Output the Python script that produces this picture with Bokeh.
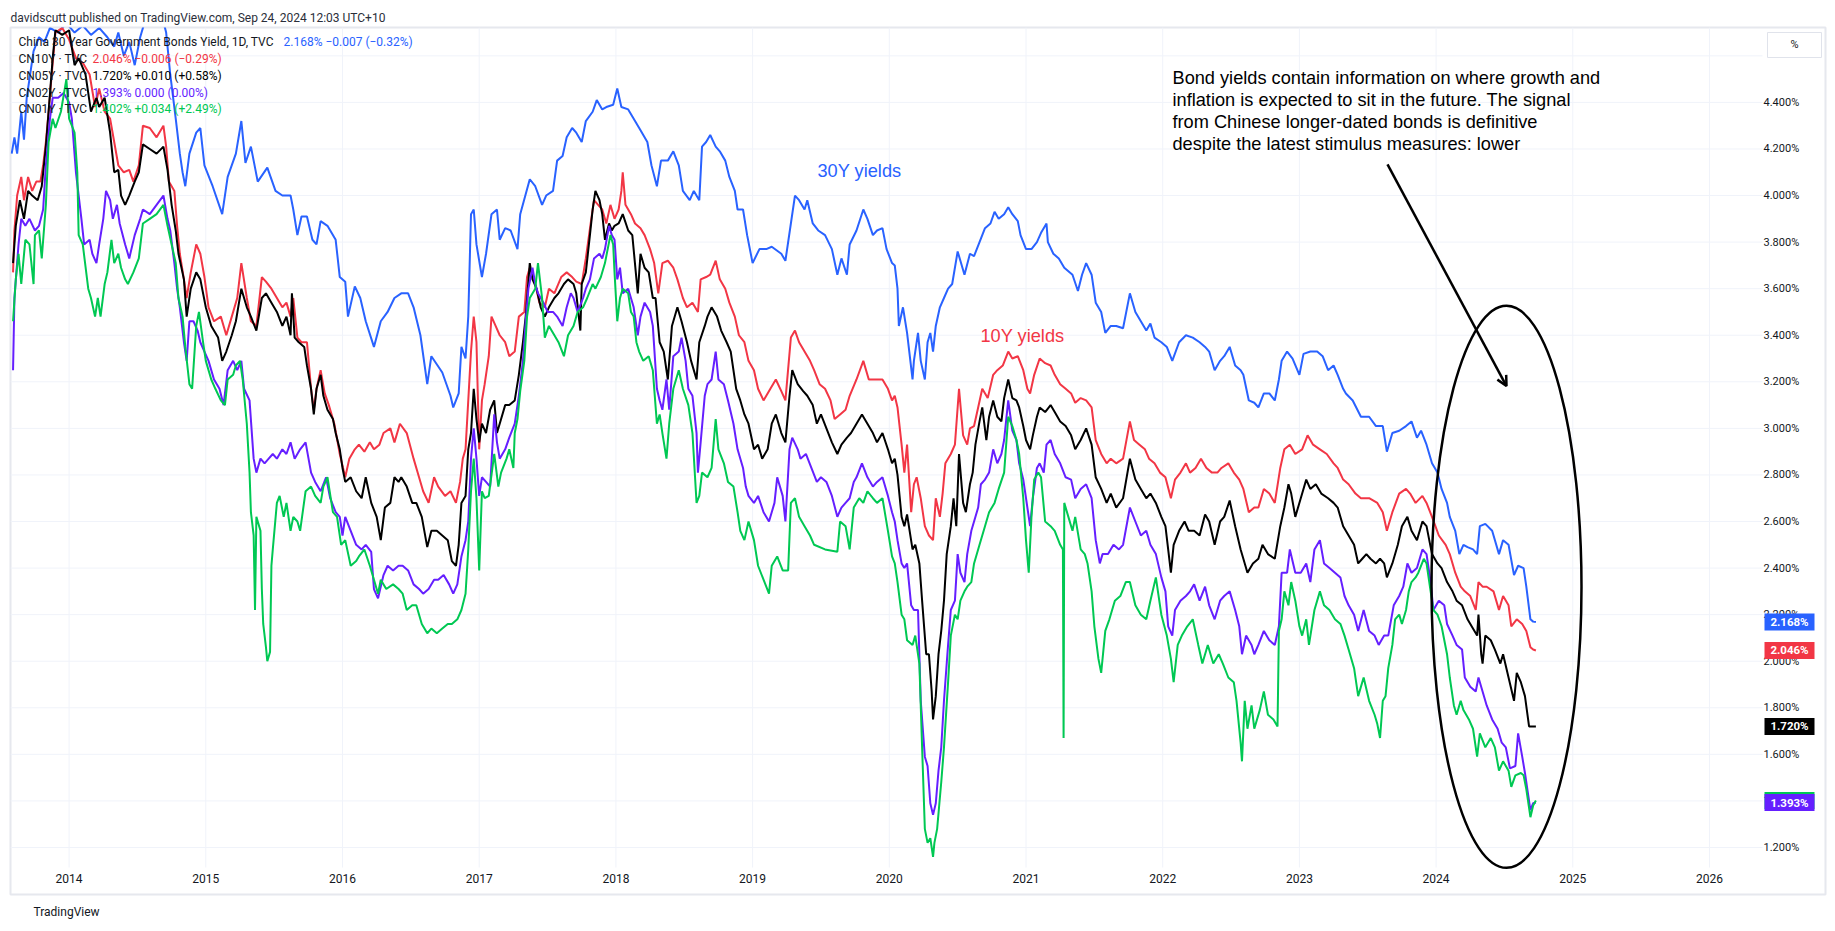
from bokeh.plotting import figure
from bokeh.models import Range1d, FixedTicker, PrintfTickFormatter, Label, Arrow, OpenHead, Title
from bokeh.core.properties import value
from bokeh.embed import file_html
from bokeh.resources import INLINE

# ---------------- data (date as fractional year, yield in %) ----------------
CN30Y = [(2013.58,4.18),(2013.60,4.25),(2013.62,4.18),(2013.65,4.36),(2013.67,4.24),(2013.69,4.42),(2013.71,4.50),
(2013.74,4.62),(2013.78,4.68),(2013.82,4.66),(2013.86,4.72),(2013.92,4.70),(2013.98,4.74),(2014.04,4.70),(2014.10,4.73),
(2014.16,4.69),(2014.22,4.72),(2014.28,4.68),(2014.33,4.64),(2014.36,4.70),(2014.40,4.60),(2014.44,4.66),(2014.48,4.56),
(2014.52,4.68),(2014.56,4.76),(2014.62,4.78),(2014.68,4.77),(2014.71,4.70),(2014.74,4.52),(2014.78,4.33),(2014.81,4.18),
(2014.83,4.10),(2014.85,4.04),(2014.88,4.18),(2014.93,4.27),(2014.96,4.29),(2014.99,4.13),(2015.05,4.04),(2015.12,3.92),
(2015.16,4.08),(2015.22,4.18),(2015.26,4.32),(2015.29,4.14),(2015.33,4.21),(2015.38,4.06),(2015.45,4.12),(2015.51,4.02),
(2015.56,4.00),(2015.62,4.00),(2015.64,3.94),(2015.67,3.83),(2015.70,3.91),(2015.74,3.91),(2015.78,3.81),(2015.81,3.79),
(2015.84,3.89),(2015.89,3.87),(2015.95,3.81),(2015.98,3.65),(2016.02,3.63),(2016.04,3.48),(2016.09,3.61),(2016.13,3.56),
(2016.17,3.46),(2016.23,3.35),(2016.28,3.46),(2016.33,3.50),(2016.38,3.56),(2016.43,3.58),(2016.48,3.58),(2016.52,3.52),
(2016.57,3.40),(2016.62,3.19),(2016.65,3.31),(2016.73,3.24),(2016.79,3.14),(2016.81,3.09),(2016.85,3.15),(2016.87,3.35),
(2016.90,3.30),(2016.92,3.48),(2016.94,3.92),(2016.96,3.94),(2016.98,3.79),(2017.02,3.65),(2017.05,3.75),(2017.09,3.92),
(2017.13,3.94),(2017.15,3.81),(2017.19,3.86),(2017.23,3.85),(2017.28,3.77),(2017.30,3.92),(2017.37,4.07),(2017.41,4.04),
(2017.46,3.96),(2017.49,4.00),(2017.54,4.02),(2017.57,4.15),(2017.61,4.17),(2017.64,4.25),(2017.68,4.29),(2017.71,4.27),
(2017.75,4.23),(2017.78,4.32),(2017.83,4.36),(2017.86,4.41),(2017.90,4.37),(2017.93,4.38),(2017.98,4.39),(2018.01,4.46),
(2018.04,4.38),(2018.09,4.37),(2018.14,4.32),(2018.18,4.28),(2018.23,4.23),(2018.26,4.13),(2018.30,4.04),(2018.33,4.15),
(2018.38,4.15),(2018.42,4.19),(2018.46,4.13),(2018.49,4.02),(2018.54,3.98),(2018.57,4.02),(2018.61,3.98),(2018.63,4.21),
(2018.66,4.23),(2018.69,4.26),(2018.73,4.21),(2018.76,4.19),(2018.80,4.15),(2018.83,4.08),(2018.87,4.02),(2018.89,3.94),
(2018.93,3.94),(2018.96,3.83),(2019.00,3.71),(2019.05,3.77),(2019.10,3.77),(2019.14,3.78),(2019.21,3.75),(2019.24,3.72),
(2019.28,3.88),(2019.31,4.00),(2019.34,3.98),(2019.38,3.94),(2019.40,3.98),(2019.44,3.88),(2019.48,3.85),(2019.53,3.83),
(2019.58,3.77),(2019.62,3.66),(2019.65,3.73),(2019.69,3.66),(2019.71,3.79),(2019.76,3.85),(2019.81,3.94),(2019.84,3.90),
(2019.88,3.83),(2019.91,3.85),(2019.95,3.86),(2019.98,3.77),(2020.02,3.71),(2020.04,3.70),(2020.06,3.60),(2020.07,3.44),
(2020.10,3.52),(2020.13,3.41),(2020.17,3.21),(2020.18,3.29),(2020.21,3.41),(2020.23,3.29),(2020.26,3.21),(2020.28,3.37),
(2020.30,3.41),(2020.32,3.33),(2020.34,3.44),(2020.37,3.52),(2020.40,3.56),(2020.43,3.60),(2020.46,3.62),(2020.50,3.76),
(2020.52,3.72),(2020.55,3.66),(2020.59,3.75),(2020.62,3.74),(2020.66,3.80),(2020.70,3.86),(2020.74,3.88),(2020.77,3.93),
(2020.80,3.90),(2020.84,3.92),(2020.87,3.95),(2020.90,3.92),(2020.94,3.89),(2020.96,3.83),(2021.00,3.77),(2021.04,3.77),
(2021.08,3.80),(2021.11,3.84),(2021.15,3.88),(2021.16,3.80),(2021.20,3.75),(2021.24,3.73),(2021.28,3.69),(2021.34,3.66),
(2021.38,3.59),(2021.41,3.66),(2021.44,3.71),(2021.48,3.66),(2021.51,3.54),(2021.55,3.50),(2021.58,3.41),(2021.62,3.44),
(2021.66,3.44),(2021.71,3.43),(2021.76,3.58),(2021.80,3.50),(2021.84,3.46),(2021.88,3.42),(2021.91,3.45),(2021.94,3.39),
(2021.99,3.37),(2022.03,3.35),(2022.07,3.29),(2022.12,3.37),(2022.17,3.40),(2022.22,3.39),(2022.27,3.37),(2022.31,3.35),
(2022.34,3.33),(2022.38,3.25),(2022.42,3.29),(2022.45,3.31),(2022.49,3.35),(2022.53,3.27),(2022.57,3.25),(2022.59,3.23),
(2022.63,3.12),(2022.67,3.11),(2022.70,3.09),(2022.74,3.15),(2022.78,3.15),(2022.82,3.12),(2022.85,3.21),(2022.87,3.29),
(2022.91,3.33),(2022.95,3.30),(2023.00,3.23),(2023.03,3.32),(2023.08,3.33),(2023.13,3.33),(2023.17,3.31),(2023.21,3.25),
(2023.25,3.27),(2023.28,3.23),(2023.32,3.17),(2023.34,3.15),(2023.39,3.12),(2023.45,3.05),(2023.51,3.05),(2023.56,3.01),
(2023.61,3.01),(2023.64,2.90),(2023.68,2.98),(2023.73,2.99),(2023.78,3.01),(2023.82,3.03),(2023.86,2.96),(2023.89,2.99),
(2023.93,2.93),(2023.97,2.85),(2024.01,2.81),(2024.04,2.74),(2024.08,2.68),(2024.10,2.62),(2024.14,2.56),(2024.17,2.46),
(2024.20,2.50),(2024.23,2.49),(2024.27,2.48),(2024.30,2.46),(2024.32,2.58),(2024.36,2.59),(2024.41,2.56),(2024.46,2.46),
(2024.49,2.52),(2024.53,2.50),(2024.57,2.37),(2024.60,2.41),(2024.64,2.40),(2024.66,2.32),(2024.69,2.18),(2024.71,2.17),
(2024.73,2.168)]

CN10Y = [(2013.59,3.67),(2013.60,3.85),(2013.62,4.00),(2013.65,4.08),(2013.67,3.98),(2013.70,4.08),(2013.73,4.02),
(2013.76,4.06),(2013.79,4.06),(2013.81,4.13),(2013.83,4.23),(2013.85,4.36),(2013.88,4.57),(2013.90,4.70),(2013.95,4.72),
(2014.00,4.67),(2014.05,4.59),(2014.10,4.57),(2014.15,4.52),(2014.19,4.38),(2014.22,4.46),(2014.26,4.36),(2014.30,4.33),
(2014.33,4.23),(2014.36,4.13),(2014.40,4.10),(2014.44,4.11),(2014.47,4.06),(2014.51,4.13),(2014.54,4.30),(2014.59,4.29),
(2014.64,4.25),(2014.69,4.30),(2014.71,4.21),(2014.73,4.06),(2014.77,4.02),(2014.79,3.87),(2014.81,3.75),(2014.84,3.64),
(2014.86,3.56),(2014.89,3.67),(2014.93,3.79),(2014.96,3.75),(2014.99,3.65),(2015.02,3.52),(2015.06,3.46),(2015.11,3.48),
(2015.15,3.40),(2015.19,3.48),(2015.23,3.56),(2015.26,3.71),(2015.30,3.56),(2015.33,3.46),(2015.37,3.44),(2015.41,3.65),
(2015.44,3.63),(2015.48,3.60),(2015.52,3.56),(2015.56,3.52),(2015.59,3.54),(2015.62,3.48),(2015.64,3.56),(2015.67,3.39),
(2015.70,3.37),(2015.74,3.37),(2015.77,3.17),(2015.79,3.08),(2015.81,3.17),(2015.84,3.25),(2015.87,3.15),(2015.90,3.10),
(2015.94,3.02),(2015.98,2.89),(2016.02,2.79),(2016.05,2.87),(2016.09,2.91),(2016.12,2.93),(2016.16,2.90),(2016.20,2.94),
(2016.23,2.91),(2016.27,2.93),(2016.30,2.98),(2016.35,3.00),(2016.38,2.94),(2016.42,3.02),(2016.47,2.98),(2016.52,2.87),
(2016.56,2.79),(2016.59,2.73),(2016.63,2.68),(2016.67,2.79),(2016.70,2.75),(2016.75,2.71),(2016.79,2.73),(2016.83,2.68),
(2016.86,2.77),(2016.88,2.87),(2016.90,2.91),(2016.92,3.12),(2016.94,3.33),(2016.96,3.48),(2016.98,3.37),(2017.00,2.91),
(2017.02,3.12),(2017.04,3.19),(2017.07,3.31),(2017.09,3.48),(2017.12,3.44),(2017.15,3.40),(2017.19,3.37),(2017.22,3.31),
(2017.26,3.33),(2017.29,3.48),(2017.33,3.50),(2017.35,3.65),(2017.37,3.69),(2017.41,3.62),(2017.44,3.54),(2017.48,3.52),
(2017.51,3.60),(2017.55,3.58),(2017.60,3.65),(2017.64,3.67),(2017.68,3.65),(2017.71,3.63),(2017.75,3.62),(2017.78,3.73),
(2017.82,3.90),(2017.84,3.98),(2017.87,3.96),(2017.90,3.94),(2017.93,3.88),(2017.96,3.96),(2017.99,3.90),(2018.02,3.94),
(2018.04,4.02),(2018.05,4.10),(2018.07,3.96),(2018.11,3.92),(2018.14,3.88),(2018.18,3.86),(2018.21,3.83),(2018.25,3.77),
(2018.28,3.71),(2018.31,3.58),(2018.34,3.71),(2018.38,3.72),(2018.42,3.69),(2018.45,3.64),(2018.49,3.56),(2018.52,3.52),
(2018.56,3.54),(2018.60,3.50),(2018.62,3.64),(2018.66,3.65),(2018.69,3.66),(2018.73,3.72),(2018.76,3.64),(2018.80,3.60),
(2018.83,3.54),(2018.87,3.48),(2018.90,3.40),(2018.94,3.37),(2018.97,3.29),(2019.01,3.25),(2019.04,3.17),(2019.08,3.12),
(2019.13,3.17),(2019.17,3.21),(2019.21,3.16),(2019.24,3.12),(2019.28,3.39),(2019.31,3.42),(2019.34,3.37),(2019.38,3.33),
(2019.42,3.29),(2019.45,3.25),(2019.49,3.19),(2019.53,3.17),(2019.57,3.12),(2019.60,3.04),(2019.64,3.06),(2019.68,3.08),
(2019.71,3.14),(2019.76,3.21),(2019.81,3.29),(2019.85,3.21),(2019.90,3.21),(2019.95,3.21),(2019.99,3.17),(2020.02,3.12),
(2020.04,3.14),(2020.06,3.09),(2020.09,2.93),(2020.11,2.81),(2020.13,2.93),(2020.16,2.64),(2020.18,2.76),(2020.20,2.79),
(2020.23,2.70),(2020.26,2.58),(2020.29,2.54),(2020.32,2.52),(2020.34,2.70),(2020.37,2.62),(2020.39,2.72),(2020.41,2.85),
(2020.45,2.89),(2020.48,2.93),(2020.51,3.17),(2020.54,2.97),(2020.57,2.93),(2020.59,3.00),(2020.62,3.01),(2020.65,3.09),
(2020.68,3.17),(2020.72,3.13),(2020.76,3.23),(2020.79,3.25),(2020.83,3.27),(2020.87,3.33),(2020.90,3.30),(2020.94,3.31),
(2020.98,3.25),(2021.01,3.17),(2021.03,3.15),(2021.06,3.23),(2021.10,3.30),(2021.14,3.28),(2021.18,3.27),(2021.21,3.23),
(2021.25,3.19),(2021.29,3.17),(2021.33,3.15),(2021.36,3.11),(2021.40,3.13),(2021.44,3.12),(2021.48,3.09),(2021.51,2.95),
(2021.55,2.89),(2021.59,2.85),(2021.62,2.87),(2021.66,2.85),(2021.71,2.87),(2021.76,3.03),(2021.79,2.95),(2021.83,2.93),
(2021.87,2.91),(2021.90,2.87),(2021.94,2.85),(2021.98,2.81),(2022.02,2.79),(2022.06,2.70),(2022.09,2.78),(2022.13,2.81),
(2022.17,2.85),(2022.20,2.81),(2022.24,2.83),(2022.28,2.87),(2022.32,2.83),(2022.36,2.81),(2022.40,2.81),(2022.43,2.83),
(2022.48,2.85),(2022.52,2.81),(2022.56,2.78),(2022.59,2.74),(2022.63,2.64),(2022.67,2.66),(2022.70,2.66),(2022.74,2.74),
(2022.78,2.72),(2022.82,2.68),(2022.86,2.83),(2022.89,2.91),(2022.93,2.93),(2022.97,2.89),(2023.02,2.91),(2023.06,2.97),
(2023.10,2.93),(2023.15,2.91),(2023.20,2.89),(2023.25,2.85),(2023.28,2.83),(2023.32,2.78),(2023.36,2.76),(2023.41,2.72),
(2023.45,2.70),(2023.51,2.70),(2023.57,2.68),(2023.61,2.64),(2023.64,2.56),(2023.68,2.64),(2023.73,2.72),(2023.78,2.74),
(2023.81,2.72),(2023.85,2.68),(2023.90,2.71),(2023.93,2.68),(2023.97,2.62),(2024.02,2.54),(2024.07,2.50),(2024.10,2.46),
(2024.14,2.38),(2024.18,2.32),(2024.21,2.30),(2024.25,2.28),(2024.29,2.22),(2024.31,2.34),(2024.34,2.32),(2024.37,2.32),
(2024.42,2.30),(2024.46,2.22),(2024.49,2.28),(2024.53,2.24),(2024.55,2.15),(2024.59,2.18),(2024.63,2.16),(2024.66,2.13),
(2024.69,2.06),(2024.71,2.05),(2024.73,2.046)]

CN05Y = [(2013.59,3.71),(2013.61,3.87),(2013.64,3.98),(2013.67,3.90),(2013.70,4.02),(2013.73,4.00),(2013.77,3.98),
(2013.80,4.04),(2013.83,4.21),(2013.85,4.36),(2013.88,4.59),(2013.90,4.71),(2013.95,4.69),(2014.00,4.71),(2014.04,4.56),
(2014.07,4.59),(2014.12,4.52),(2014.16,4.36),(2014.20,4.42),(2014.22,4.38),(2014.26,4.42),(2014.30,4.27),(2014.33,4.10),
(2014.36,4.11),(2014.38,4.00),(2014.41,3.96),(2014.44,4.00),(2014.48,4.06),(2014.51,4.10),(2014.54,4.22),(2014.59,4.20),
(2014.64,4.18),(2014.69,4.21),(2014.72,4.11),(2014.75,3.96),(2014.78,3.85),(2014.80,3.75),(2014.84,3.64),(2014.86,3.48),
(2014.89,3.60),(2014.93,3.67),(2014.96,3.64),(2015.00,3.52),(2015.04,3.44),(2015.09,3.39),(2015.12,3.29),(2015.15,3.33),
(2015.19,3.40),(2015.22,3.46),(2015.26,3.60),(2015.30,3.52),(2015.33,3.48),(2015.37,3.42),(2015.41,3.56),(2015.44,3.58),
(2015.48,3.54),(2015.52,3.50),(2015.56,3.44),(2015.59,3.48),(2015.62,3.40),(2015.63,3.58),(2015.65,3.39),(2015.68,3.37),
(2015.72,3.35),(2015.74,3.27),(2015.77,3.17),(2015.79,3.06),(2015.81,3.17),(2015.84,3.23),(2015.86,3.14),(2015.89,3.08),
(2015.93,3.04),(2015.95,2.98),(2015.98,2.91),(2016.00,2.83),(2016.02,2.77),(2016.06,2.79),(2016.10,2.73),(2016.14,2.70),
(2016.17,2.79),(2016.21,2.68),(2016.25,2.62),(2016.28,2.52),(2016.31,2.66),(2016.35,2.68),(2016.38,2.79),(2016.41,2.77),
(2016.43,2.79),(2016.47,2.75),(2016.51,2.68),(2016.54,2.68),(2016.58,2.62),(2016.62,2.49),(2016.65,2.56),(2016.69,2.56),
(2016.73,2.54),(2016.77,2.52),(2016.80,2.43),(2016.83,2.41),(2016.85,2.50),(2016.87,2.68),(2016.90,2.71),(2016.92,2.91),
(2016.94,2.98),(2016.96,3.17),(2016.98,3.04),(2017.00,2.94),(2017.02,3.02),(2017.05,2.98),(2017.08,3.08),(2017.11,3.12),
(2017.13,2.98),(2017.15,3.02),(2017.19,3.10),(2017.22,3.10),(2017.26,3.12),(2017.29,3.23),(2017.32,3.37),(2017.34,3.48),
(2017.37,3.71),(2017.39,3.64),(2017.42,3.60),(2017.45,3.52),(2017.48,3.48),(2017.51,3.52),(2017.55,3.56),(2017.58,3.58),
(2017.62,3.62),(2017.65,3.64),(2017.69,3.62),(2017.71,3.58),(2017.74,3.42),(2017.75,3.62),(2017.78,3.67),(2017.81,3.83),
(2017.83,3.94),(2017.85,4.02),(2017.88,3.98),(2017.90,3.92),(2017.92,3.81),(2017.95,3.88),(2017.97,3.85),(2017.99,3.87),
(2018.02,3.88),(2018.05,3.92),(2018.09,3.85),(2018.12,3.83),(2018.16,3.58),(2018.18,3.75),(2018.21,3.69),(2018.24,3.67),
(2018.27,3.56),(2018.29,3.56),(2018.32,3.37),(2018.35,3.33),(2018.38,3.21),(2018.41,3.44),(2018.45,3.52),(2018.48,3.46),
(2018.52,3.37),(2018.55,3.29),(2018.59,3.21),(2018.61,3.37),(2018.65,3.44),(2018.67,3.48),(2018.70,3.52),(2018.74,3.48),
(2018.77,3.42),(2018.81,3.37),(2018.84,3.33),(2018.88,3.17),(2018.91,3.12),(2018.94,3.06),(2018.97,3.02),(2019.01,2.91),
(2019.04,2.93),(2019.07,2.87),(2019.11,2.91),(2019.14,3.02),(2019.17,3.06),(2019.21,2.98),(2019.24,2.94),(2019.27,3.14),
(2019.29,3.25),(2019.33,3.19),(2019.37,3.16),(2019.40,3.14),(2019.44,3.10),(2019.47,3.02),(2019.50,3.06),(2019.54,3.00),
(2019.58,2.94),(2019.62,2.89),(2019.65,2.93),(2019.69,2.96),(2019.72,2.98),(2019.76,3.02),(2019.80,3.06),(2019.84,3.02),
(2019.88,2.98),(2019.91,2.94),(2019.95,2.98),(2019.99,2.91),(2020.02,2.85),(2020.04,2.87),(2020.06,2.80),(2020.09,2.62),
(2020.11,2.58),(2020.13,2.63),(2020.17,2.48),(2020.19,2.50),(2020.22,2.42),(2020.24,2.26),(2020.27,2.03),(2020.29,2.03),
(2020.31,1.87),(2020.32,1.75),(2020.34,1.85),(2020.36,2.03),(2020.38,2.13),(2020.40,2.26),(2020.42,2.46),(2020.45,2.58),
(2020.47,2.70),(2020.49,2.58),(2020.51,2.89),(2020.54,2.68),(2020.56,2.64),(2020.59,2.76),(2020.61,2.81),(2020.63,2.93),
(2020.66,3.03),(2020.68,3.09),(2020.71,2.95),(2020.73,3.05),(2020.76,3.12),(2020.79,3.05),(2020.82,3.03),(2020.84,3.13),
(2020.87,3.21),(2020.90,3.13),(2020.93,3.12),(2020.95,3.09),(2020.98,3.01),(2021.00,2.95),(2021.03,2.91),(2021.05,2.97),
(2021.08,3.05),(2021.10,3.09),(2021.14,3.07),(2021.18,3.10),(2021.21,3.07),(2021.25,3.03),(2021.29,3.01),(2021.33,2.97),
(2021.36,2.91),(2021.40,2.95),(2021.44,3.00),(2021.48,2.93),(2021.51,2.79),(2021.55,2.74),(2021.59,2.68),(2021.62,2.72),
(2021.66,2.66),(2021.71,2.70),(2021.76,2.87),(2021.80,2.78),(2021.84,2.74),(2021.88,2.70),(2021.91,2.72),(2021.95,2.68),
(2021.99,2.62),(2022.02,2.58),(2022.06,2.38),(2022.08,2.50),(2022.12,2.56),(2022.16,2.60),(2022.19,2.56),(2022.23,2.56),
(2022.27,2.54),(2022.31,2.63),(2022.34,2.60),(2022.38,2.50),(2022.42,2.60),(2022.45,2.62),(2022.49,2.69),(2022.53,2.58),
(2022.57,2.48),(2022.59,2.44),(2022.62,2.38),(2022.66,2.42),(2022.70,2.44),(2022.73,2.50),(2022.77,2.46),(2022.82,2.44),
(2022.86,2.58),(2022.89,2.66),(2022.92,2.76),(2022.94,2.72),(2022.97,2.62),(2023.01,2.70),(2023.05,2.78),(2023.08,2.74),
(2023.12,2.76),(2023.16,2.72),(2023.21,2.70),(2023.25,2.68),(2023.28,2.66),(2023.32,2.58),(2023.36,2.54),(2023.40,2.50),
(2023.43,2.42),(2023.46,2.44),(2023.49,2.46),(2023.52,2.44),(2023.56,2.42),(2023.59,2.44),(2023.62,2.42),(2023.64,2.36),
(2023.68,2.42),(2023.72,2.50),(2023.75,2.58),(2023.79,2.62),(2023.82,2.56),(2023.86,2.52),(2023.90,2.60),(2023.93,2.58),
(2023.97,2.46),(2024.01,2.42),(2024.04,2.40),(2024.08,2.34),(2024.12,2.30),(2024.15,2.26),(2024.19,2.24),(2024.23,2.18),
(2024.26,2.15),(2024.30,2.11),(2024.31,2.20),(2024.33,2.03),(2024.34,1.99),(2024.36,2.11),(2024.40,2.09),(2024.43,2.05),
(2024.47,1.99),(2024.49,2.03),(2024.53,1.93),(2024.57,1.83),(2024.59,1.95),(2024.62,1.91),(2024.65,1.85),(2024.68,1.72),
(2024.71,1.72),(2024.73,1.720)]

CN02Y = [(2013.59,3.25),(2013.60,3.56),(2013.63,3.79),(2013.65,3.90),(2013.68,3.87),(2013.71,3.90),(2013.75,3.85),
(2013.78,3.87),(2013.81,3.94),(2013.83,4.13),(2013.86,4.33),(2013.88,4.42),(2013.92,4.42),(2013.96,4.44),(2014.00,4.40),
(2014.02,4.33),(2014.05,4.10),(2014.09,3.90),(2014.11,3.79),(2014.15,3.81),(2014.17,3.75),(2014.20,3.71),(2014.22,3.79),
(2014.25,3.90),(2014.27,4.02),(2014.30,3.98),(2014.32,3.90),(2014.35,3.96),(2014.37,3.88),(2014.41,3.79),(2014.44,3.73),
(2014.48,3.83),(2014.52,3.90),(2014.54,3.94),(2014.59,3.92),(2014.64,3.96),(2014.69,4.00),(2014.72,3.90),(2014.74,3.85),
(2014.77,3.71),(2014.79,3.60),(2014.81,3.52),(2014.84,3.37),(2014.86,3.29),(2014.88,3.46),(2014.91,3.46),(2014.94,3.42),
(2014.96,3.37),(2014.99,3.33),(2015.02,3.29),(2015.06,3.21),(2015.10,3.17),(2015.13,3.10),(2015.16,3.25),(2015.20,3.29),
(2015.23,3.25),(2015.26,3.29),(2015.28,3.17),(2015.32,3.12),(2015.35,2.87),(2015.37,2.81),(2015.40,2.87),(2015.43,2.85),
(2015.46,2.87),(2015.49,2.89),(2015.52,2.87),(2015.56,2.91),(2015.59,2.89),(2015.62,2.94),(2015.65,2.87),(2015.69,2.91),
(2015.73,2.94),(2015.77,2.81),(2015.80,2.77),(2015.84,2.73),(2015.88,2.79),(2015.91,2.70),(2015.95,2.64),(2015.98,2.62),
(2016.00,2.54),(2016.02,2.62),(2016.06,2.56),(2016.10,2.50),(2016.14,2.48),(2016.17,2.50),(2016.21,2.47),(2016.23,2.31),
(2016.26,2.27),(2016.30,2.37),(2016.33,2.41),(2016.37,2.39),(2016.41,2.41),(2016.44,2.41),(2016.48,2.39),(2016.52,2.33),
(2016.56,2.31),(2016.59,2.29),(2016.63,2.31),(2016.67,2.35),(2016.70,2.35),(2016.74,2.37),(2016.78,2.33),(2016.81,2.29),
(2016.84,2.33),(2016.87,2.45),(2016.90,2.52),(2016.92,2.60),(2016.94,2.87),(2016.96,3.00),(2016.98,2.87),(2017.00,2.71),
(2017.02,2.79),(2017.05,2.77),(2017.08,2.75),(2017.11,3.06),(2017.13,2.94),(2017.15,2.87),(2017.19,2.91),(2017.22,2.96),
(2017.26,3.02),(2017.29,3.14),(2017.32,3.29),(2017.34,3.46),(2017.36,3.60),(2017.39,3.69),(2017.41,3.62),(2017.43,3.58),
(2017.47,3.54),(2017.50,3.50),(2017.54,3.50),(2017.57,3.48),(2017.61,3.44),(2017.64,3.52),(2017.67,3.58),(2017.69,3.56),
(2017.72,3.50),(2017.76,3.56),(2017.78,3.60),(2017.81,3.64),(2017.84,3.73),(2017.88,3.75),(2017.90,3.73),(2017.92,3.77),
(2017.95,3.87),(2017.97,3.83),(2017.99,3.81),(2018.01,3.64),(2018.03,3.69),(2018.05,3.58),(2018.09,3.60),(2018.11,3.56),
(2018.13,3.52),(2018.16,3.40),(2018.18,3.48),(2018.21,3.54),(2018.25,3.50),(2018.27,3.44),(2018.30,3.17),(2018.32,3.12),
(2018.34,3.08),(2018.37,3.21),(2018.39,3.08),(2018.42,3.31),(2018.46,3.33),(2018.48,3.39),(2018.51,3.29),(2018.53,3.17),
(2018.56,3.14),(2018.59,2.98),(2018.60,2.81),(2018.62,2.94),(2018.65,3.14),(2018.67,3.19),(2018.70,3.21),(2018.73,3.33),
(2018.75,3.21),(2018.79,3.19),(2018.82,3.12),(2018.86,3.02),(2018.89,2.91),(2018.93,2.83),(2018.95,2.75),(2018.97,2.71),
(2019.01,2.68),(2019.04,2.71),(2019.08,2.64),(2019.12,2.60),(2019.16,2.68),(2019.18,2.79),(2019.22,2.71),(2019.24,2.60),
(2019.27,2.91),(2019.29,2.96),(2019.33,2.91),(2019.35,2.87),(2019.39,2.89),(2019.43,2.83),(2019.47,2.77),(2019.50,2.79),
(2019.54,2.77),(2019.58,2.71),(2019.62,2.62),(2019.65,2.66),(2019.68,2.68),(2019.71,2.70),(2019.74,2.77),(2019.76,2.79),
(2019.80,2.85),(2019.84,2.79),(2019.88,2.75),(2019.91,2.77),(2019.95,2.79),(2019.99,2.71),(2020.02,2.64),(2020.04,2.60),
(2020.06,2.52),(2020.09,2.42),(2020.11,2.40),(2020.13,2.42),(2020.16,2.24),(2020.18,2.22),(2020.21,2.22),(2020.23,1.83),
(2020.26,1.59),(2020.28,1.55),(2020.30,1.39),(2020.32,1.34),(2020.34,1.39),(2020.36,1.53),(2020.38,1.63),(2020.40,1.83),
(2020.43,2.07),(2020.45,2.22),(2020.48,2.26),(2020.50,2.46),(2020.52,2.38),(2020.55,2.34),(2020.57,2.46),(2020.60,2.56),
(2020.62,2.60),(2020.65,2.66),(2020.67,2.76),(2020.70,2.78),(2020.73,2.81),(2020.76,2.91),(2020.79,2.85),(2020.82,2.89),
(2020.84,2.95),(2020.87,3.12),(2020.90,2.99),(2020.93,2.95),(2020.95,2.85),(2020.98,2.78),(2021.00,2.70),(2021.03,2.58),
(2021.05,2.70),(2021.08,2.83),(2021.10,2.85),(2021.13,2.81),(2021.15,2.93),(2021.18,2.95),(2021.21,2.89),(2021.25,2.85),
(2021.29,2.79),(2021.33,2.78),(2021.36,2.70),(2021.40,2.74),(2021.44,2.76),(2021.48,2.70),(2021.51,2.52),(2021.54,2.42),
(2021.56,2.46),(2021.60,2.46),(2021.64,2.50),(2021.68,2.48),(2021.71,2.50),(2021.76,2.66),(2021.80,2.60),(2021.84,2.54),
(2021.88,2.56),(2021.91,2.50),(2021.95,2.46),(2021.99,2.36),(2022.02,2.30),(2022.04,2.15),(2022.07,2.11),(2022.09,2.22),
(2022.13,2.26),(2022.17,2.28),(2022.20,2.30),(2022.23,2.33),(2022.27,2.26),(2022.31,2.32),(2022.34,2.24),(2022.38,2.18),
(2022.42,2.26),(2022.45,2.28),(2022.49,2.30),(2022.53,2.22),(2022.56,2.15),(2022.58,2.03),(2022.61,2.11),(2022.65,2.07),
(2022.67,2.03),(2022.70,2.07),(2022.74,2.13),(2022.78,2.09),(2022.82,2.07),(2022.85,2.15),(2022.87,2.38),(2022.91,2.38),
(2022.93,2.48),(2022.97,2.38),(2023.01,2.38),(2023.05,2.42),(2023.08,2.34),(2023.11,2.48),(2023.15,2.52),(2023.18,2.42),
(2023.22,2.40),(2023.26,2.38),(2023.30,2.36),(2023.33,2.28),(2023.36,2.24),(2023.40,2.20),(2023.43,2.13),(2023.47,2.22),
(2023.51,2.13),(2023.55,2.11),(2023.58,2.07),(2023.62,2.11),(2023.65,2.11),(2023.69,2.24),(2023.73,2.28),(2023.76,2.32),
(2023.79,2.42),(2023.82,2.38),(2023.86,2.40),(2023.90,2.48),(2023.93,2.46),(2023.96,2.34),(2023.98,2.22),(2024.02,2.26),
(2024.06,2.24),(2024.08,2.16),(2024.12,2.11),(2024.15,2.07),(2024.19,2.05),(2024.21,1.93),(2024.25,1.89),(2024.29,1.87),
(2024.31,1.93),(2024.34,1.87),(2024.37,1.81),(2024.41,1.75),(2024.45,1.71),(2024.48,1.65),(2024.51,1.63),(2024.54,1.54),
(2024.58,1.55),(2024.60,1.69),(2024.63,1.59),(2024.65,1.52),(2024.67,1.44),(2024.69,1.36),(2024.71,1.39),(2024.73,1.393)]

CN01Y = [(2013.59,3.46),(2013.61,3.64),(2013.63,3.75),(2013.65,3.62),(2013.68,3.81),(2013.71,3.79),(2013.74,3.62),
(2013.75,3.83),(2013.78,3.85),(2013.80,3.73),(2013.83,3.96),(2013.85,4.23),(2013.88,4.33),(2013.90,4.29),(2013.94,4.36),
(2013.98,4.50),(2014.00,4.33),(2014.04,4.27),(2014.06,4.10),(2014.07,3.83),(2014.10,3.79),(2014.14,3.60),(2014.16,3.56),
(2014.19,3.48),(2014.21,3.56),(2014.23,3.48),(2014.26,3.62),(2014.28,3.67),(2014.31,3.81),(2014.33,3.71),(2014.36,3.75),
(2014.38,3.69),(2014.41,3.64),(2014.43,3.62),(2014.47,3.67),(2014.51,3.73),(2014.54,3.88),(2014.59,3.90),(2014.64,3.92),
(2014.69,3.96),(2014.72,3.87),(2014.75,3.79),(2014.78,3.71),(2014.80,3.56),(2014.83,3.48),(2014.85,3.35),(2014.88,3.19),
(2014.90,3.17),(2014.93,3.44),(2014.95,3.50),(2014.98,3.37),(2015.00,3.29),(2015.04,3.21),(2015.07,3.17),(2015.11,3.12),
(2015.14,3.10),(2015.16,3.21),(2015.20,3.23),(2015.22,3.27),(2015.25,3.29),(2015.27,3.21),(2015.30,3.02),(2015.32,2.81),
(2015.33,2.64),(2015.35,2.54),(2015.36,2.22),(2015.37,2.62),(2015.40,2.56),(2015.41,2.31),(2015.42,2.16),(2015.44,2.06),
(2015.45,2.00),(2015.47,2.04),(2015.48,2.41),(2015.49,2.48),(2015.52,2.68),(2015.54,2.71),(2015.57,2.62),(2015.59,2.68),
(2015.62,2.56),(2015.64,2.62),(2015.67,2.60),(2015.69,2.56),(2015.73,2.73),(2015.77,2.75),(2015.80,2.71),(2015.84,2.68),
(2015.86,2.75),(2015.89,2.79),(2015.93,2.64),(2015.96,2.62),(2015.99,2.50),(2016.02,2.52),(2016.06,2.41),(2016.10,2.43),
(2016.12,2.45),(2016.16,2.48),(2016.20,2.41),(2016.22,2.37),(2016.26,2.29),(2016.28,2.35),(2016.32,2.31),(2016.37,2.33),
(2016.41,2.31),(2016.44,2.29),(2016.47,2.22),(2016.51,2.24),(2016.54,2.24),(2016.58,2.16),(2016.62,2.12),(2016.65,2.14),
(2016.69,2.12),(2016.73,2.14),(2016.77,2.16),(2016.80,2.16),(2016.84,2.18),(2016.87,2.22),(2016.90,2.29),(2016.92,2.48),
(2016.94,2.73),(2016.96,2.87),(2016.98,2.70),(2017.00,2.39),(2017.02,2.73),(2017.04,2.70),(2017.07,2.71),(2017.11,2.89),
(2017.14,2.75),(2017.16,2.81),(2017.20,2.87),(2017.22,2.91),(2017.25,2.83),(2017.26,2.98),(2017.28,3.04),(2017.30,3.16),
(2017.33,3.29),(2017.35,3.48),(2017.37,3.56),(2017.41,3.60),(2017.43,3.71),(2017.46,3.56),(2017.48,3.39),(2017.51,3.44),
(2017.55,3.40),(2017.58,3.37),(2017.62,3.31),(2017.65,3.40),(2017.69,3.44),(2017.72,3.50),(2017.76,3.52),(2017.79,3.56),
(2017.83,3.62),(2017.85,3.60),(2017.89,3.65),(2017.92,3.71),(2017.96,3.83),(2017.98,3.79),(2017.99,3.67),(2018.01,3.46),
(2018.03,3.56),(2018.05,3.60),(2018.09,3.58),(2018.11,3.50),(2018.13,3.48),(2018.15,3.37),(2018.17,3.33),(2018.20,3.29),
(2018.24,3.31),(2018.27,3.25),(2018.30,3.02),(2018.32,3.06),(2018.34,2.98),(2018.37,2.87),(2018.39,3.02),(2018.42,3.17),
(2018.46,3.25),(2018.49,3.17),(2018.53,3.10),(2018.56,2.98),(2018.59,2.68),(2018.61,2.71),(2018.63,2.81),(2018.67,2.79),
(2018.70,2.83),(2018.73,3.04),(2018.75,2.91),(2018.79,2.85),(2018.82,2.77),(2018.86,2.75),(2018.89,2.64),(2018.91,2.56),
(2018.94,2.52),(2018.97,2.60),(2019.01,2.52),(2019.04,2.41),(2019.08,2.35),(2019.12,2.29),(2019.14,2.41),(2019.18,2.45),
(2019.22,2.39),(2019.26,2.39),(2019.28,2.68),(2019.31,2.70),(2019.34,2.62),(2019.38,2.58),(2019.42,2.54),(2019.45,2.50),
(2019.53,2.48),(2019.62,2.47),(2019.64,2.60),(2019.68,2.58),(2019.71,2.48),(2019.74,2.66),(2019.78,2.70),(2019.81,2.68),
(2019.84,2.73),(2019.88,2.70),(2019.91,2.68),(2019.95,2.70),(2019.99,2.56),(2020.02,2.45),(2020.04,2.42),(2020.06,2.34),
(2020.09,2.20),(2020.11,2.18),(2020.13,2.09),(2020.17,2.07),(2020.19,2.11),(2020.22,1.99),(2020.24,1.63),(2020.26,1.28),
(2020.28,1.22),(2020.30,1.24),(2020.32,1.16),(2020.33,1.22),(2020.35,1.28),(2020.38,1.48),(2020.40,1.63),(2020.43,1.91),
(2020.45,2.11),(2020.48,2.20),(2020.50,2.18),(2020.52,2.26),(2020.55,2.30),(2020.57,2.32),(2020.60,2.34),(2020.62,2.42),
(2020.66,2.50),(2020.70,2.58),(2020.73,2.64),(2020.77,2.68),(2020.80,2.74),(2020.84,2.81),(2020.87,3.05),(2020.90,3.01),
(2020.93,2.95),(2020.95,2.89),(2020.98,2.70),(2021.00,2.52),(2021.02,2.38),(2021.04,2.62),(2021.06,2.78),(2021.09,2.81),
(2021.11,2.79),(2021.14,2.60),(2021.18,2.58),(2021.21,2.56),(2021.25,2.50),(2021.27,2.48),(2021.275,1.67),(2021.28,2.68),
(2021.31,2.62),(2021.34,2.56),(2021.36,2.62),(2021.40,2.48),(2021.43,2.46),(2021.45,2.42),(2021.48,2.30),(2021.50,2.15),
(2021.53,2.01),(2021.55,1.95),(2021.58,2.13),(2021.61,2.18),(2021.65,2.26),(2021.69,2.28),(2021.73,2.34),(2021.76,2.34),
(2021.80,2.24),(2021.84,2.20),(2021.88,2.18),(2021.91,2.26),(2021.95,2.36),(2021.99,2.20),(2022.03,2.11),(2022.06,2.01),
(2022.08,1.91),(2022.11,2.07),(2022.14,2.11),(2022.18,2.15),(2022.22,2.18),(2022.26,2.07),(2022.29,1.99),(2022.33,2.07),
(2022.37,1.99),(2022.41,2.03),(2022.44,1.99),(2022.48,1.93),(2022.52,1.91),(2022.54,1.83),(2022.57,1.65),(2022.58,1.57),
(2022.60,1.83),(2022.62,1.71),(2022.65,1.81),(2022.67,1.71),(2022.71,1.79),(2022.74,1.87),(2022.77,1.77),(2022.81,1.75),
(2022.84,1.72),(2022.85,2.13),(2022.87,2.18),(2022.89,2.30),(2022.92,2.24),(2022.94,2.34),(2022.97,2.26),(2023.00,2.15),
(2023.02,2.11),(2023.05,2.18),(2023.07,2.07),(2023.11,2.22),(2023.15,2.30),(2023.18,2.24),(2023.22,2.22),(2023.26,2.18),
(2023.30,2.16),(2023.33,2.11),(2023.36,2.05),(2023.40,1.97),(2023.43,1.85),(2023.47,1.93),(2023.51,1.83),(2023.55,1.77),
(2023.57,1.73),(2023.59,1.67),(2023.61,1.83),(2023.63,1.85),(2023.65,1.97),(2023.68,2.07),(2023.70,2.18),(2023.73,2.20),
(2023.75,2.16),(2023.78,2.22),(2023.80,2.30),(2023.82,2.34),(2023.85,2.36),(2023.87,2.38),(2023.91,2.44),(2023.93,2.42),
(2023.96,2.30),(2023.98,2.22),(2024.01,2.20),(2024.04,2.15),(2024.08,2.03),(2024.10,1.93),(2024.13,1.81),(2024.15,1.77),
(2024.18,1.83),(2024.20,1.79),(2024.24,1.75),(2024.27,1.71),(2024.30,1.59),(2024.32,1.69),(2024.36,1.63),(2024.40,1.67),
(2024.43,1.63),(2024.46,1.53),(2024.49,1.57),(2024.53,1.53),(2024.55,1.46),(2024.58,1.51),(2024.62,1.52),(2024.64,1.51),
(2024.66,1.45),(2024.69,1.33),(2024.71,1.38),(2024.73,1.402)]

SERIES_COLORS = ["#2962ff", "#f23645", "#000000", "#651fff", "#00c853"]
LAST_VALUES = [2.168, 2.046, 1.720, 1.393, 1.402]
LAST_TEXT = ["2.168%", "2.046%", "1.720%", "1.393%", "1.402%"]
LEGEND_NAMES = ["China 30 Year Government Bonds Yield, 1D, TVC", "CN10Y · TVC", "CN05Y · TVC",
                "CN02Y · TVC", "CN01Y · TVC"]
LEGEND_VALUES = ["2.168%  \u22120.007 (\u22120.32%)", "2.046%  \u22120.006 (\u22120.29%)",
                 "1.720%  +0.010 (+0.58%)", "1.393%  0.000 (0.00%)", "1.402%  +0.034 (+2.49%)"]
YEAR_TICKS = list(range(2014, 2027))
PRICE_TICKS = [round(1.2 + 0.2 * i, 1) for i in range(17)]          # 1.2 .. 4.4
PRICE_GRID = PRICE_TICKS + [4.6]
HEADER = "davidscutt published on TradingView.com, Sep 24, 2024 12:03 UTC+10"
FOOTER = "TradingView"
NOTE_LINES = ["Bond yields contain information on where growth and",
              "inflation is expected to sit in the future. The signal",
              "from Chinese longer-dated bonds is definitive",
              "despite the latest stimulus measures: lower"]

# ---------------- layout geometry (page pixels; the canvas sits at the page origin) ----------------
W, H = 1830, 926
CL, CR, CT, CB = 10, 1825, 27, 895      # whole chart box (pane + scales)
PANE_R, PANE_B = 1762, 868              # right / bottom edge of the price pane
XPX, XS = 888.8, 136.7                   # page x of 2020.0, px per year
YPX, YS = 102.0, 233.1                   # page y of 4.4 %, px per 1 %

def xd(px):
    return 2020.0 + (px - XPX) / XS

def yd(py):
    return 4.4 - (py - YPX) / YS

p = figure(width=W, height=H, output_backend="svg", toolbar_location=None,
           x_range=Range1d(xd(CL), xd(CR)), y_range=Range1d(yd(CB), yd(CT)),
           x_axis_location="below", y_axis_location="right",
           min_border_left=CL, min_border_top=CT,
           min_border_right=W - CR, min_border_bottom=H - CB,
           background_fill_color="white", border_fill_color="white")
p.outline_line_color = "#e6e8ee"
p.outline_line_width = 2
p.xgrid.visible = False
p.ygrid.visible = False

# header / footer as titles
p.title.text = HEADER
p.title.align = "left"
p.title.text_font = "Roboto"
p.title.text_font_size = "12px"
p.title.text_font_style = "normal"
p.title.text_color = "#2a2e39"
p.title.standoff = 5
p.add_layout(Title(text=FOOTER, align="left", offset=23, text_font="Roboto", text_font_size="12px",
                   text_font_style="normal", text_color="#131722", standoff=16), "below")

# axes: labels drawn into the time / price scale strips of the chart box
xa = p.xaxis[0]
xa.ticker = FixedTicker(ticks=YEAR_TICKS)
xa.formatter = PrintfTickFormatter(format="%d")
ya = p.yaxis[0]
ya.ticker = FixedTicker(ticks=PRICE_TICKS)
ya.formatter = PrintfTickFormatter(format="%.3f%%")
for ax, size, stand in ((xa, "12px", -21), (ya, "11px", -62)):
    ax.axis_line_color = None
    ax.major_tick_line_color = None
    ax.minor_tick_line_color = None
    ax.major_tick_out = 0
    ax.major_tick_in = 0
    ax.major_label_text_font = "Roboto"
    ax.major_label_text_font_size = size
    ax.major_label_text_color = "#131722"
    ax.major_label_standoff = stand
    ax.level = "underlay"          # price tags are drawn over the scale labels

# grid lines, limited to the price pane
p.segment(x0=[xd(CL)] * len(PRICE_GRID), x1=[xd(PANE_R)] * len(PRICE_GRID), y0=PRICE_GRID, y1=PRICE_GRID,
          line_color="#f0f3fa", line_width=1)
p.segment(x0=YEAR_TICKS, x1=YEAR_TICKS, y0=[yd(PANE_B)] * len(YEAR_TICKS), y1=[yd(CT)] * len(YEAR_TICKS),
          line_color="#f0f3fa", line_width=1)

# series
for data, col in zip([CN30Y, CN10Y, CN05Y, CN02Y, CN01Y], SERIES_COLORS):
    t = [d[0] for d in data]
    v = [d[1] for d in data]
    p.line(t, v, line_color=col, line_width=2)

# drawings on the chart
p.ellipse(x=[xd(1506)], y=[yd(587)], width=[150], height=[562],
          width_units="screen", height_units="screen",
          fill_color=None, line_color="black", line_width=2.5)
p.add_layout(Arrow(x_start=xd(1387), y_start=yd(164), x_end=xd(1506), y_end=yd(386),
                   line_color="black", line_width=2.5,
                   end=OpenHead(size=10, line_color="black", line_width=2.5)))

for i, line in enumerate(NOTE_LINES):
    p.add_layout(Label(x=xd(1172), y=yd(77.7 + 22 * i), text=line, text_font="Liberation Sans",
                       text_font_size="18.2px", text_color="#000000", text_baseline="alphabetic"))
p.add_layout(Label(x=xd(817), y=yd(170.5), text="30Y yields", text_font="Liberation Sans",
                   text_font_size="18.2px", text_color="#2962ff", text_baseline="alphabetic"))
p.add_layout(Label(x=xd(980), y=yd(335.5), text="10Y yields", text_font="Liberation Sans",
                   text_font_size="18.2px", text_color="#f23645", text_baseline="alphabetic"))

# legend block
legend_y = [42, 59, 76, 93, 109]
value_x = [283, 92, 92, 92, 92]
for i in range(5):
    p.add_layout(Label(x=xd(18), y=yd(legend_y[i]), text=LEGEND_NAMES[i], text_font="Roboto",
                       text_font_size="12px", text_color="#131722", text_baseline="middle"))
    p.add_layout(Label(x=xd(value_x[i]), y=yd(legend_y[i]), text=LEGEND_VALUES[i], text_font="Roboto",
                       text_font_size="12px", text_color=SERIES_COLORS[i], text_baseline="middle"))

# "%" button in the price scale
p.rect(x=[xd(1794)], y=[yd(44.5)], width=[54], height=[25], width_units="screen", height_units="screen",
       fill_color="white", line_color="#e0e3eb", line_width=1)
p.text(x=[xd(1794)], y=[yd(44.5)], text=["%"], text_font=value("Roboto"), text_font_size="11px",
       text_color="#131722", text_align="center", text_baseline="middle")

# last-value price tags; the 1Y tag sits under the 2Y tag and only its top edge shows
p.rect(x=[xd(1789)], y=[LAST_VALUES[4]], width=[50], height=[17], width_units="screen",
       height_units="screen", fill_color=SERIES_COLORS[4], line_color=None)
for i in [3, 2, 1, 0]:
    p.rect(x=[xd(1789)], y=[LAST_VALUES[i]], width=[50], height=[17], width_units="screen",
           height_units="screen", fill_color=SERIES_COLORS[i], line_color=None)
    p.text(x=[xd(1789)], y=[LAST_VALUES[i]], text=[LAST_TEXT[i]], text_font=value("Roboto"),
           text_font_size="11.5px", text_font_style="bold", text_color="white",
           text_align="center", text_baseline="middle")

open("out.html", "w").write(file_html(p, INLINE))
